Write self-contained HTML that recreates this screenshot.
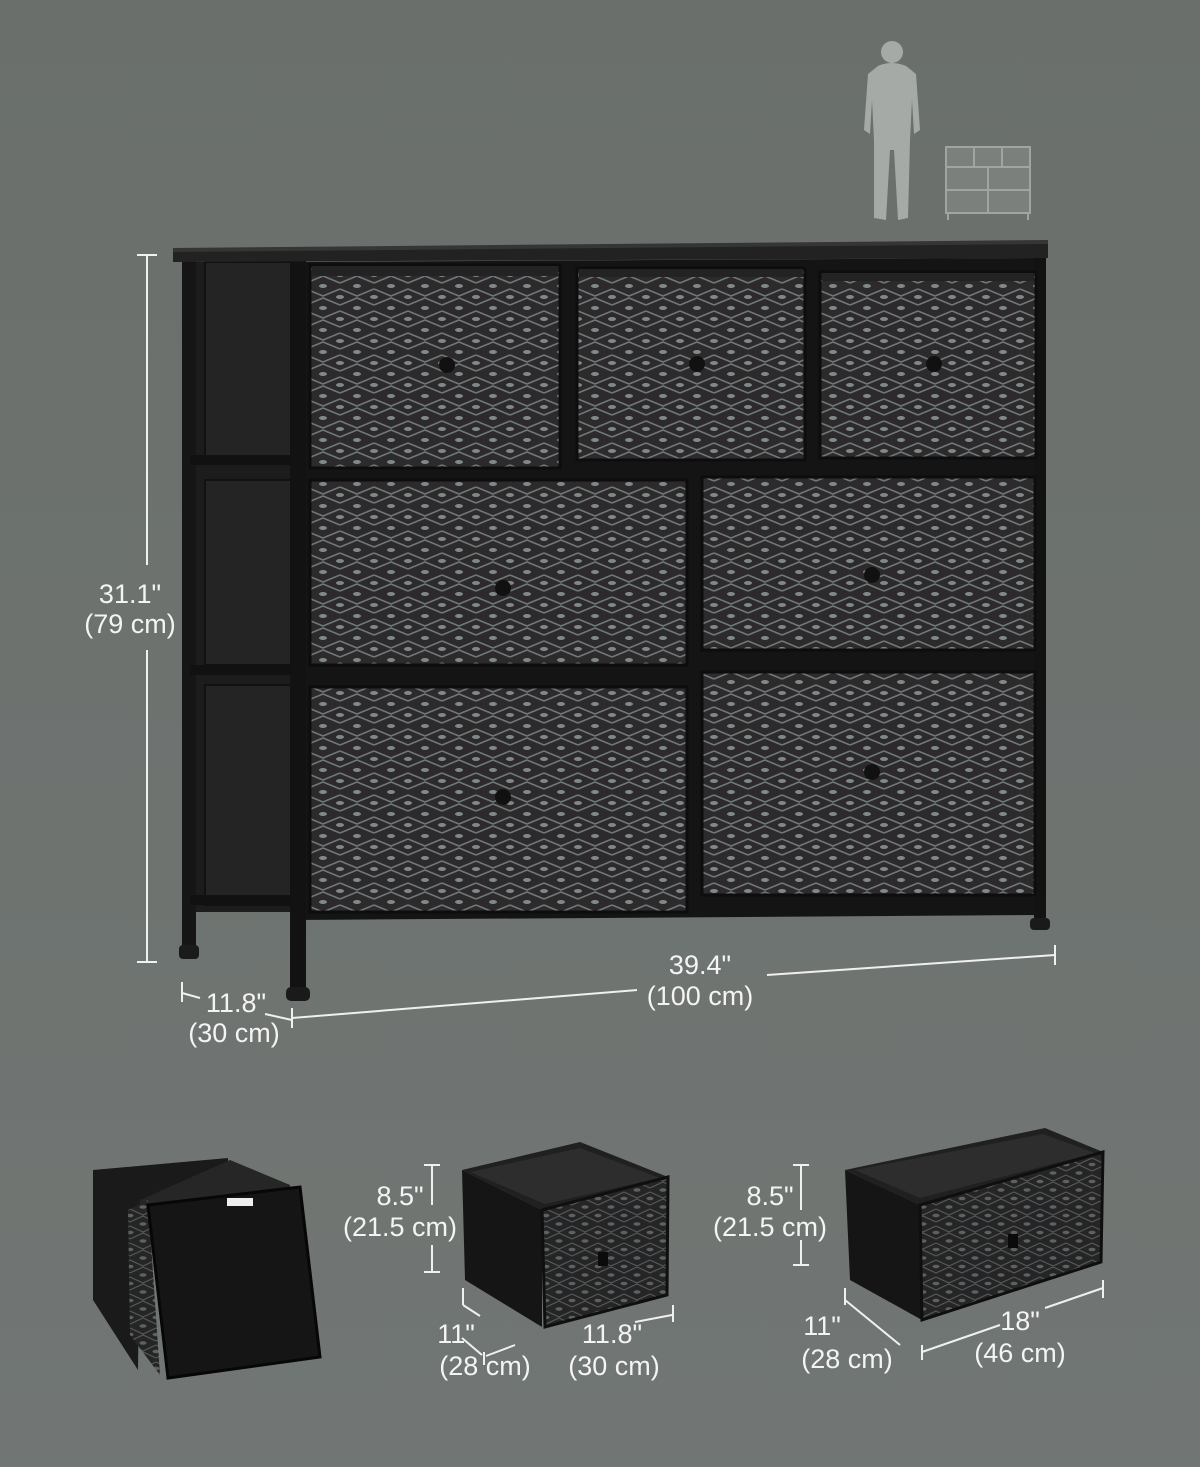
<!DOCTYPE html>
<html><head><meta charset="utf-8"><style>
html,body{margin:0;padding:0}
body{width:1200px;height:1467px;overflow:hidden;background:linear-gradient(#6a6f6b,#717674);}
svg{display:block}
text{font-family:"Liberation Sans",sans-serif;fill:#f4f4f4;font-size:27px}
</style></head><body>
<svg width="1200" height="1467" viewBox="0 0 1200 1467" xmlns="http://www.w3.org/2000/svg">
<defs>
<pattern id="pat" width="34" height="22" patternUnits="userSpaceOnUse">
<rect width="34" height="22" fill="#2c2a2a"/>
<path d="M0 3 L17 10 L34 3 M0 19 L17 12 L34 19" stroke="#6f777a" stroke-width="1.6" fill="none"/>
<ellipse cx="17" cy="0" rx="4" ry="2" fill="#7f888b"/>
<ellipse cx="17" cy="22" rx="4" ry="2" fill="#7f888b"/>
<ellipse cx="0" cy="11" rx="4" ry="2" fill="#7f888b"/>
<ellipse cx="34" cy="11" rx="4" ry="2" fill="#7f888b"/>
</pattern>
<pattern id="pat2" width="26" height="17" patternUnits="userSpaceOnUse">
<rect width="26" height="17" fill="#262526"/>
<path d="M0 2 L13 8 L26 2 M0 15 L13 9 L26 15" stroke="#55595b" stroke-width="1.2" fill="none"/>
<ellipse cx="0" cy="8.5" rx="3.5" ry="1.7" fill="#5c6163"/>
<ellipse cx="26" cy="8.5" rx="3.5" ry="1.7" fill="#5c6163"/>
<ellipse cx="13" cy="0" rx="3.5" ry="1.7" fill="#5c6163"/>
<ellipse cx="13" cy="17" rx="3.5" ry="1.7" fill="#5c6163"/>
</pattern>
</defs>

<g fill="#a5aaa6">
<circle cx="892" cy="52" r="11"/>
<path d="M878 66 Q892 60 906 66 L916 74 L920 130 L914 134 L912 100 L910 140 L908 218 L898 220 L894 150 L890 150 L886 220 L874 218 L874 140 L872 100 L870 134 L864 130 L868 74 Z"/>
</g>
<g fill="none" stroke="#a0a5a1" stroke-width="2">
<rect x="946" y="147" width="84" height="66" fill="#7b807c"/>
<line x1="946" y1="167" x2="1030" y2="167"/>
<line x1="974" y1="147" x2="974" y2="167"/><line x1="1002" y1="147" x2="1002" y2="167"/>
<line x1="946" y1="190" x2="1030" y2="190"/><line x1="988" y1="167" x2="988" y2="213"/>
<line x1="948" y1="213" x2="948" y2="220"/><line x1="1028" y1="213" x2="1028" y2="220"/>
</g>

<g>
<rect x="182" y="255" width="14" height="700" fill="#151515"/>
<rect x="179" y="945" width="20" height="14" rx="4" fill="#1b1b1b"/>
<rect x="900" y="640" width="12" height="245" fill="#151515"/>
<rect x="897" y="876" width="18" height="12" fill="#1b1b1b"/>
<rect x="196" y="262" width="110" height="650" fill="#1c1c1c"/>
<rect x="205" y="262" width="88" height="200" fill="#242424" stroke="#111" stroke-width="2"/>
<rect x="205" y="480" width="88" height="185" fill="#242424" stroke="#111" stroke-width="2"/>
<rect x="205" y="685" width="88" height="220" fill="#242424" stroke="#111" stroke-width="2"/>
<rect x="190" y="455" width="120" height="10" fill="#111"/>
<rect x="190" y="665" width="120" height="10" fill="#111"/>
<rect x="190" y="895" width="120" height="10" fill="#111"/>
<polygon points="296,262 1036,258 1036,915 296,920" fill="#141414"/>
<rect x="290" y="258" width="16" height="735" fill="#121212"/>
<rect x="286" y="987" width="24" height="14" rx="5" fill="#1a1a1a"/>
<rect x="1034" y="250" width="12" height="675" fill="#121212"/>
<rect x="1030" y="918" width="20" height="12" rx="4" fill="#1a1a1a"/>
<polygon points="173,250 1048,242 1048,258 173,262" fill="#222"/>
<polygon points="173,248 1048,240 1048,244 173,252" fill="#353535"/>
</g>
<g stroke="#0d0d0d" stroke-width="3">
<rect x="310" y="265" width="250" height="203" fill="url(#pat)"/>
<rect x="577" y="268" width="228" height="192" fill="url(#pat)"/>
<rect x="820" y="272" width="216" height="186" fill="url(#pat)"/>
<rect x="310" y="480" width="377" height="185" fill="url(#pat)"/>
<rect x="702" y="477" width="333" height="173" fill="url(#pat)"/>
<rect x="310" y="687" width="377" height="225" fill="url(#pat)"/>
<rect x="702" y="672" width="333" height="223" fill="url(#pat)"/>
</g>
<g fill="#232323">
<rect x="312" y="266" width="246" height="10"/><rect x="579" y="269" width="224" height="8"/><rect x="822" y="273" width="212" height="8"/>
</g>
<g fill="#111">
<circle cx="447" cy="365" r="8"/><circle cx="697" cy="364" r="8"/><circle cx="934" cy="364" r="8"/>
<circle cx="503" cy="588" r="8"/><circle cx="872" cy="575" r="8"/>
<circle cx="503" cy="797" r="8"/><circle cx="872" cy="772" r="8"/>
</g>

<g stroke="#f0f0f0" stroke-width="2" fill="none">
<line x1="147" y1="255" x2="147" y2="565"/><line x1="147" y1="650" x2="147" y2="962"/>
<line x1="137" y1="255" x2="157" y2="255"/><line x1="137" y1="962" x2="157" y2="962"/>
<line x1="767" y1="975" x2="1055" y2="955"/><line x1="1055" y1="945" x2="1055" y2="965"/>
<line x1="292" y1="1018" x2="637" y2="990"/><line x1="292" y1="1008" x2="292" y2="1028"/>
<line x1="265" y1="1014" x2="292" y2="1020"/>
<line x1="182" y1="982" x2="182" y2="1002"/><line x1="182" y1="993" x2="200" y2="998"/>
<line x1="432" y1="1165" x2="432" y2="1205"/><line x1="432" y1="1245" x2="432" y2="1272"/>
<line x1="424" y1="1165" x2="440" y2="1165"/><line x1="424" y1="1272" x2="440" y2="1272"/>
<line x1="463" y1="1288" x2="463" y2="1305"/><line x1="463" y1="1305" x2="480" y2="1316"/>
<line x1="462" y1="1338" x2="482" y2="1355"/>
<line x1="484" y1="1352" x2="484" y2="1365"/><line x1="486" y1="1356" x2="515" y2="1345"/>
<line x1="635" y1="1322" x2="672" y2="1315"/><line x1="673" y1="1305" x2="673" y2="1322"/>
<line x1="801" y1="1165" x2="801" y2="1210"/><line x1="801" y1="1240" x2="801" y2="1265"/>
<line x1="793" y1="1165" x2="809" y2="1165"/><line x1="793" y1="1265" x2="809" y2="1265"/>
<line x1="845" y1="1288" x2="845" y2="1305"/><line x1="845" y1="1300" x2="900" y2="1345"/>
<line x1="922" y1="1345" x2="922" y2="1360"/><line x1="922" y1="1352" x2="1000" y2="1325"/>
<line x1="1045" y1="1308" x2="1103" y2="1288"/><line x1="1103" y1="1280" x2="1103" y2="1298"/>
</g>
<text x="130" y="603" text-anchor="middle">31.1"</text>
<text x="130" y="633" text-anchor="middle">(79 cm)</text>
<text x="700" y="974" text-anchor="middle">39.4"</text>
<text x="700" y="1005" text-anchor="middle">(100 cm)</text>
<text x="236" y="1012" text-anchor="middle">11.8"</text>
<text x="234" y="1042" text-anchor="middle">(30 cm)</text>
<text x="400" y="1205" text-anchor="middle">8.5"</text>
<text x="400" y="1236" text-anchor="middle">(21.5 cm)</text>
<text x="456" y="1343" text-anchor="middle">11"</text>
<text x="485" y="1375" text-anchor="middle">(28 cm)</text>
<text x="612" y="1343" text-anchor="middle">11.8"</text>
<text x="614" y="1375" text-anchor="middle">(30 cm)</text>
<text x="770" y="1205" text-anchor="middle">8.5"</text>
<text x="770" y="1236" text-anchor="middle">(21.5 cm)</text>
<text x="822" y="1335" text-anchor="middle">11"</text>
<text x="847" y="1368" text-anchor="middle">(28 cm)</text>
<text x="1020" y="1330" text-anchor="middle">18"</text>
<text x="1020" y="1362" text-anchor="middle">(46 cm)</text>

<polygon points="93,1170 228,1158 228,1170 140,1200 138,1370 93,1300" fill="#1a1a1a"/>
<polygon points="140,1200 230,1160 290,1185 290,1210 140,1230" fill="#262626"/>
<polygon points="128,1210 148,1200 160,1375 130,1335" fill="url(#pat2)"/>
<polygon points="148,1205 300,1187 320,1357 168,1378" fill="#151515" stroke="#070707" stroke-width="3"/>
<rect x="227" y="1198" width="26" height="8" fill="#eee"/>
<polygon points="462,1170 580,1142 668,1177 542,1210" fill="#202020"/>
<polygon points="470,1172 580,1148 660,1178 545,1204" fill="#2d2d2d"/>
<polygon points="462,1170 542,1210 542,1327 465,1280" fill="#151515"/>
<polygon points="542,1210 668,1177 667,1295 545,1327" fill="url(#pat2)" stroke="#0f0f0f" stroke-width="3"/>
<rect x="598" y="1252" width="10" height="14" fill="#0b0b0b"/>
<polygon points="845,1170 1045,1128 1103,1152 920,1205" fill="#202020"/>
<polygon points="855,1170 1043,1134 1095,1153 920,1198" fill="#2d2d2d"/>
<polygon points="845,1170 920,1205 922,1320 850,1280" fill="#151515"/>
<polygon points="920,1205 1103,1152 1101,1262 922,1320" fill="url(#pat2)" stroke="#0f0f0f" stroke-width="3"/>
<rect x="1008" y="1234" width="10" height="14" fill="#0b0b0b"/>
</svg>
</body></html>
